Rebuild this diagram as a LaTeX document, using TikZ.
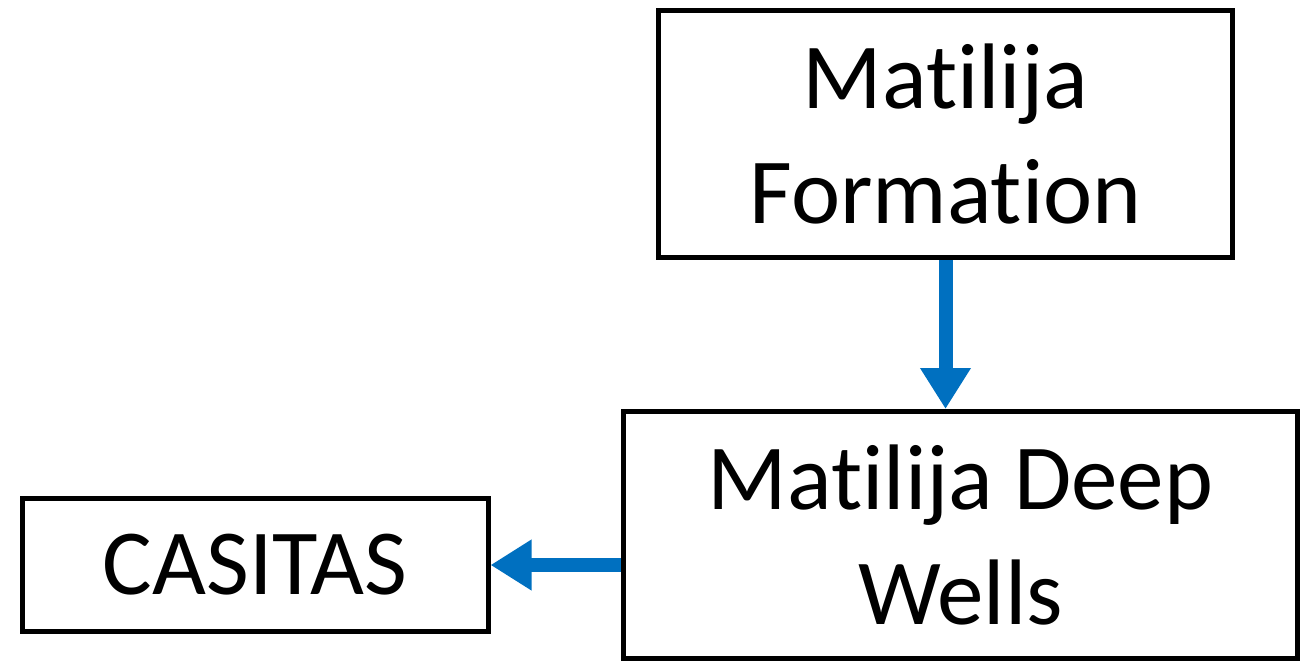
\documentclass[tikz,border=0pt]{standalone}
\usepackage{fontspec}
\setmainfont{Carlito}[Ligatures=NoCommon]
\usetikzlibrary{arrows.meta}
\definecolor{arrowblue}{HTML}{0070C0}
\begin{document}
\begin{tikzpicture}[x=0.02cm,y=-0.02cm,
  box/.style={draw=black,line width=0.1cm,rectangle,inner sep=0pt,align=center,
    font=\fontsize{53pt}{65pt}\selectfont},
  flow/.style={draw=arrowblue,line width=0.28cm,-{Triangle[width=0.96cm,length=0.82cm]}}]
\useasboundingbox (0,0) rectangle (1310,662);
\node[box,minimum width=0.02cm*574,minimum height=0.02cm*247] (mf) at (945.5,134) {Matilija\\Formation};
\node[box,minimum width=0.02cm*674,minimum height=0.02cm*247] (dw) at (960.5,535) {Matilija Deep\\Wells};
\node[box,minimum width=0.02cm*466,minimum height=0.02cm*133] (cas) at (255,565) {CASITAS};
\draw[flow] (mf.south) -- (mf.south |- dw.north);
\draw[flow] (dw.west |- cas.east) -- (cas.east);
\end{tikzpicture}
\end{document}
